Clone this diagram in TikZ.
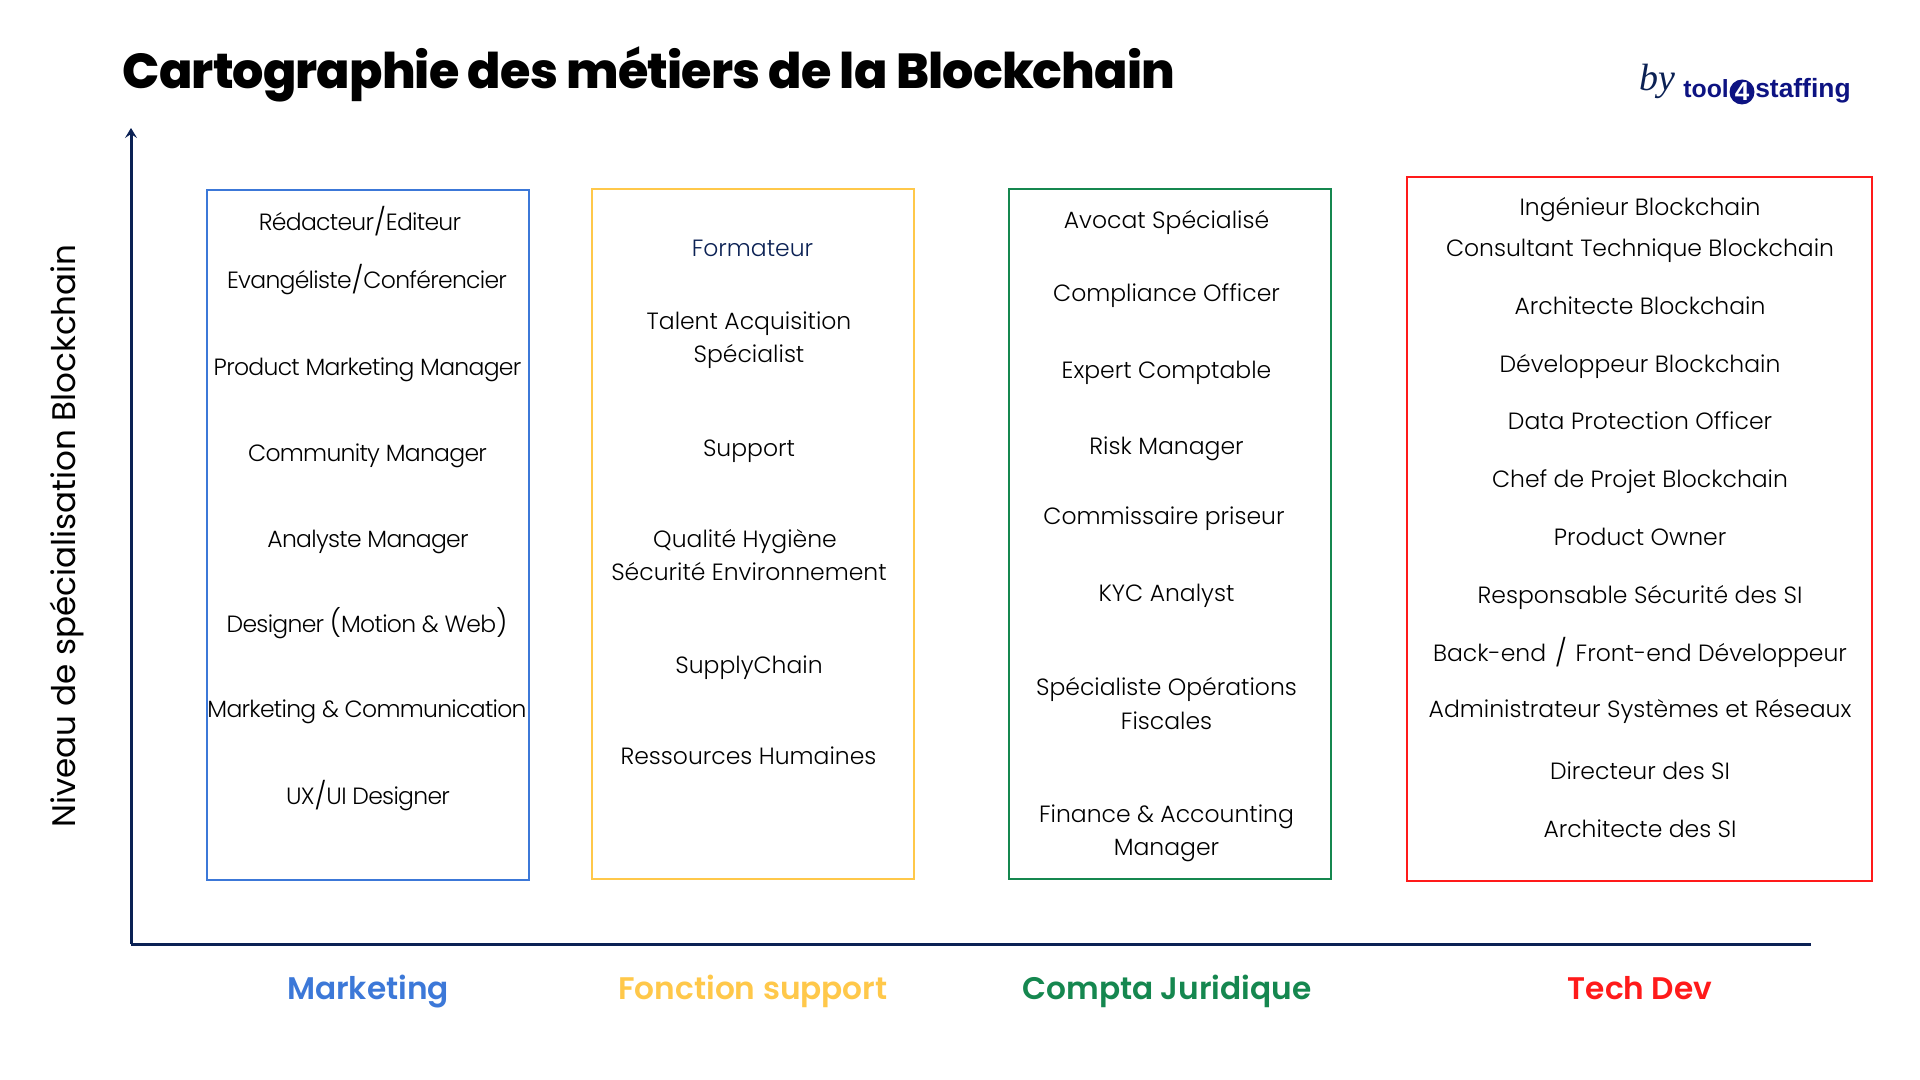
\documentclass[tikz,border=0pt]{standalone}
\usepackage{fontspec}
\setmainfont{Poppins Light}
\newfontfamily\plt[LetterSpace=-3]{Poppins Light}
\newfontfamily\preg{Poppins}
\newfontfamily\psemi{Poppins SemiBold}
\newfontfamily\pbold[LetterSpace=-1.8]{Poppins ExtraBold}
\newfontfamily\lsans{Liberation Sans}
\newfontfamily\byf{Liberation Serif}
\usetikzlibrary{arrows.meta}
\definecolor{navy}{HTML}{0B2154}
\definecolor{logoblue}{HTML}{0D1382}
\definecolor{cblue}{HTML}{3C78D8}
\definecolor{cyellow}{HTML}{FFC84A}
\definecolor{cgreen}{HTML}{15874F}
\definecolor{cred}{HTML}{FF1A1A}
\newcommand{\tallglyph}[1]{{\fontsize{13.4}{16}\selectfont\raisebox{-0.4pt}{#1}}}
\tikzset{
 frame/.style={draw,line width=1pt,fill=none,outer sep=0pt,inner sep=0pt,anchor=north west},
 item/.style={inner sep=0pt,text height=9pt,text depth=3pt,font=\fontsize{11.75}{16.4}\selectfont,text=black},
 mitem/.style={item,font=\fontsize{11.75}{16.4}\plt\selectfont},
 cat/.style={inner sep=0pt,anchor=base,font=\fontsize{15.6}{19}\psemi\selectfont},
 axisline/.style={draw=navy,line width=1.5pt},
 logotext/.style={inner sep=0pt,font=\fontsize{13.2}{16}\lsans\bfseries\selectfont,text=logoblue},
}
\begin{document}
\begin{tikzpicture}[x=0.5pt,y=-0.5pt]
\useasboundingbox (0,0) rectangle (1920,1080);
\node[inner sep=0pt,anchor=west,font=\fontsize{24.6}{30}\pbold\selectfont] (title) at (122.5,74) {Cartographie des métiers de la Blockchain};
\node[inner sep=0pt,rotate=90,font=\fontsize{16.3}{19}\preg\selectfont] (ylabel) at (67,536) {Niveau de spécialisation Blockchain};
% logo
\node[inner sep=0pt,font=\fontsize{19}{20}\byf\itshape\selectfont,text=navy] (by) at (1657,81) {by};
\node[logotext,anchor=base west,font=\fontsize{12.4}{16}\lsans\bfseries\selectfont] (lt) at (1683,98) {tool};
\node[circle,fill=logoblue,text=white,inner sep=0pt,minimum size=12.5pt,font=\fontsize{13}{13}\lsans\bfseries\selectfont] (lc) at (1742,92) {4};
\node[logotext,anchor=base east] (ls) at (1851,98) {staffing};
% axes
\coordinate (o) at (131,944);
\coordinate (ytop) at (131,128);
\coordinate (xend) at (1811,944);
\draw[axisline,-{Stealth[length=5pt,width=6pt,inset=2pt]}] (o) -- (ytop);
\draw[axisline] (o) -- (xend);
% frames
\node[frame,draw=cblue,minimum width=161pt,minimum height=345pt] (fm) at (207,190) {};
\node[frame,draw=cyellow,minimum width=161pt,minimum height=345pt] (fs) at (591.5,189) {};
\node[frame,draw=cgreen,minimum width=161pt,minimum height=345pt] (fc) at (1009,189) {};
\node[frame,draw=cred,minimum width=232.5pt,minimum height=351.5pt] (ft) at (1407,177.5) {};
% marketing
\node[mitem] (m1) at (360,225) {Rédacteur\tallglyph{/}Editeur};
\node[mitem] (m2) at (367,283) {Evangéliste\tallglyph{/}Conférencier};
\node[mitem] (m3) at (367.5,369.5) {Product Marketing Manager};
\node[mitem] (m4) at (367.5,455.5) {Community Manager};
\node[mitem] (m5) at (368,541) {Analyste Manager};
\node[mitem] (m6) at (367,626) {Designer \tallglyph{(}Motion \& Web\tallglyph{)}};
\node[mitem] (m7) at (367,711.5) {Marketing \& Communication};
\node[mitem] (m8) at (368,798.5) {UX\tallglyph{/}UI Designer};
% support
\node[item,text=navy] (s1) at (752.5,250.5) {Formateur};
\node[item] (s2a) at (749,323.5) {Talent Acquisition};
\node[item] (s2b) at (749,357) {Spécialist};
\node[item] (s3) at (749,450.5) {Support};
\node[item] (s4a) at (745,541.5) {Qualité Hygiène};
\node[item] (s4b) at (749,574.5) {Sécurité Environnement};
\node[item] (s5) at (749,667.5) {SupplyChain};
\node[item] (s6) at (748.5,758.5) {Ressources Humaines};
% compta
\node[item] (c1) at (1166.5,222.5) {Avocat Spécialisé};
\node[item] (c2) at (1166.5,295.5) {Compliance Officer};
\node[item] (c3) at (1166.5,372.5) {Expert Comptable};
\node[item] (c4) at (1166.5,448.5) {Risk Manager};
\node[item] (c5) at (1164,518.5) {Commissaire priseur};
\node[item] (c6) at (1166.5,595.5) {KYC Analyst};
\node[item] (c7a) at (1166.5,689.5) {Spécialiste Opérations};
\node[item] (c7b) at (1166.5,723) {Fiscales};
\node[item] (c8a) at (1166.5,816.5) {Finance \& Accounting};
\node[item] (c8b) at (1166.5,849.5) {Manager};
% tech
\node[item] (t1) at (1640,209.5) {Ingénieur Blockchain};
\node[item] (t2) at (1640,250.5) {Consultant Technique Blockchain};
\node[item] (t3) at (1640,308.5) {Architecte Blockchain};
\node[item] (t4) at (1640,366.5) {Développeur Blockchain};
\node[item] (t5) at (1640,423.5) {Data Protection Officer};
\node[item] (t6) at (1640,481.5) {Chef de Projet Blockchain};
\node[item] (t7) at (1640,539.5) {Product Owner};
\node[item] (t8) at (1640,597.5) {Responsable Sécurité des SI};
\node[item] (t9) at (1640,655.5) {Back-end\hspace{1.2pt} \tallglyph{/} \hspace{1.2pt}Front-end Développeur};
\node[item] (t10) at (1640,711.5) {Administrateur Systèmes et Réseaux};
\node[item] (t11) at (1640,773.5) {Directeur des SI};
\node[item] (t12) at (1640,831.5) {Architecte des SI};
% categories
\node[cat,text=cblue] (lm) at (368,999) {Marketing};
\node[cat,text=cyellow] (ls2) at (753,999) {Fonction support};
\node[cat,text=cgreen] (lc2) at (1167,999) {Compta Juridique};
\node[cat,text=cred] (lt2) at (1640,999) {Tech Dev};
\end{tikzpicture}
\end{document}
